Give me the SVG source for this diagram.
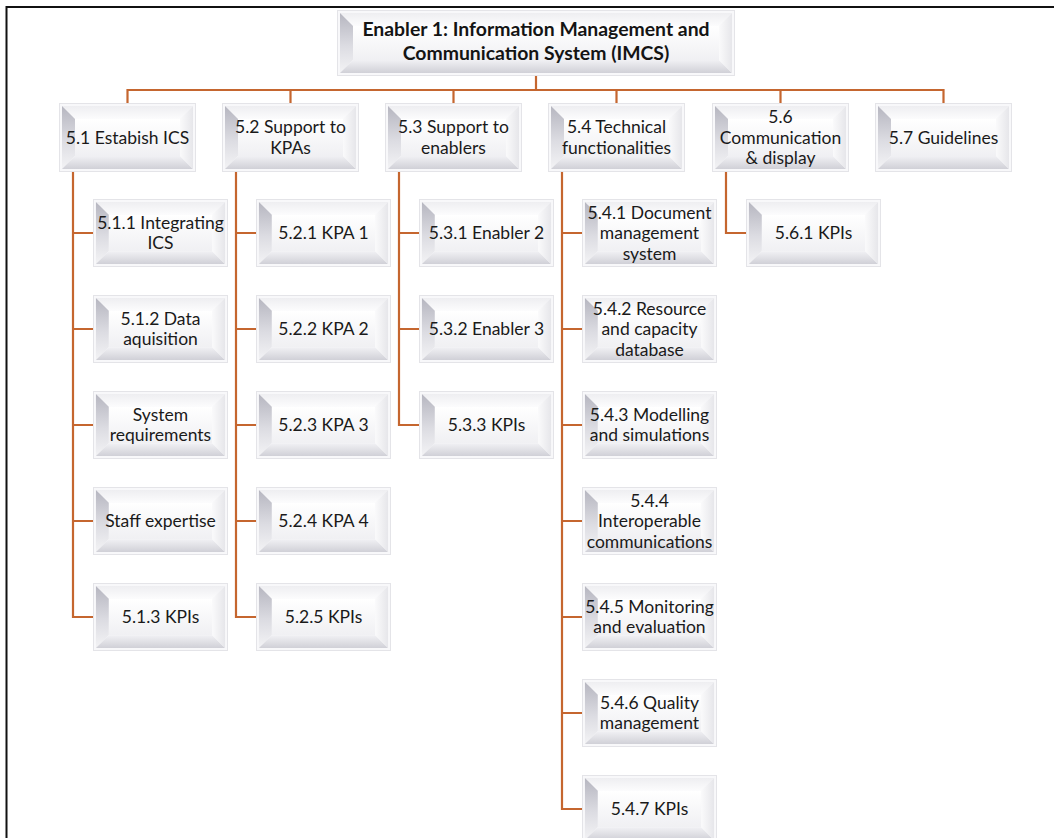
<svg xmlns="http://www.w3.org/2000/svg" xmlns:xlink="http://www.w3.org/1999/xlink" width="1054" height="838" viewBox="0 0 1054 838">
  <style>
    .lbl { font-family: Lato, "Open Sans", "Liberation Sans", sans-serif; font-size: 17.5px; fill: #1a1a1a; text-anchor: middle; }
    .ttl { font-family: Lato, "Open Sans", "Liberation Sans", sans-serif; font-size: 19.4px; font-weight: bold; fill: #141414; text-anchor: middle; }
    .wire { fill: none; stroke: #c5662f; stroke-width: 2.2; }
    .frame { fill: none; stroke: #111; stroke-width: 2; }
  </style>
  <defs>
    <linearGradient id="faceG" x1="0" y1="0" x2="0" y2="1">
      <stop offset="0" stop-color="#ffffff"/>
      <stop offset="1" stop-color="#f0f0f3"/>
    </linearGradient>
    <linearGradient id="topG" x1="0" y1="0" x2="0" y2="1">
      <stop offset="0" stop-color="#eeeef1"/>
      <stop offset="1" stop-color="#fcfcfd"/>
    </linearGradient>
    <linearGradient id="leftG" x1="0" y1="0" x2="0" y2="1">
      <stop offset="0" stop-color="#b6b6c0"/>
      <stop offset="0.55" stop-color="#dcdce2"/>
      <stop offset="1" stop-color="#f3f3f5"/>
    </linearGradient>
    <linearGradient id="botG" x1="0" y1="0" x2="0" y2="1">
      <stop offset="0" stop-color="#f1f1f4"/>
      <stop offset="1" stop-color="#d0d0d7"/>
    </linearGradient>
    <linearGradient id="rightG" x1="0" y1="0" x2="1" y2="0">
      <stop offset="0" stop-color="#fafafb"/>
      <stop offset="1" stop-color="#e6e6ea"/>
    </linearGradient>

    <!-- bevelled box, stretched to each node's size -->
    <symbol id="bevel" viewBox="0 0 137 69" preserveAspectRatio="none">
      <rect x="0.5" y="0.5" width="136" height="68" fill="#f8f8fa" stroke="#e4e4e8"/>
      <rect x="16" y="16" width="105" height="37" fill="url(#faceG)"/>
      <polygon points="3,3 134,3 121,16 16,16" fill="url(#topG)"/>
      <polygon points="3,3 16,16 16,53 3,66" fill="url(#leftG)"/>
      <polygon points="3,66 16,53 121,53 134,66" fill="url(#botG)"/>
      <polygon points="134,3 134,66 121,53 121,16" fill="url(#rightG)"/>
    </symbol>
    <symbol id="bevelWide" viewBox="0 0 398 66" preserveAspectRatio="none">
      <rect x="0.5" y="0.5" width="397" height="65" fill="#f8f8fa" stroke="#e4e4e8"/>
      <rect x="16" y="16" width="366" height="34" fill="url(#faceG)"/>
      <polygon points="3,3 395,3 382,16 16,16" fill="url(#topG)"/>
      <polygon points="3,3 16,16 16,50 3,63" fill="url(#leftG)"/>
      <polygon points="3,63 16,50 382,50 395,63" fill="url(#botG)"/>
      <polygon points="395,3 395,63 382,50 382,16" fill="url(#rightG)"/>
    </symbol>
  </defs>

  <rect width="1054" height="838" fill="#ffffff"/>
  <path class="frame" d="M6.5,838 V7 H1054"/>

  <!-- connectors -->
  <g id="connectors">
    <path class="wire" d="M536,76 V90"/>
    <path class="wire" d="M127.5,103 V90 H943.5 V103"/>
    <path class="wire" d="M290.5,90 V103 M453.5,90 V103 M616.5,90 V103 M780.5,90 V103"/>
    <!-- 5.1 branch -->
    <path class="wire" d="M73,172 V617 H93 M73,233 H93 M73,329 H93 M73,425 H93 M73,521 H93"/>
    <!-- 5.2 branch -->
    <path class="wire" d="M236,172 V617 H256 M236,233 H256 M236,329 H256 M236,425 H256 M236,521 H256"/>
    <!-- 5.3 branch -->
    <path class="wire" d="M399,172 V425 H419 M399,233 H419 M399,329 H419"/>
    <!-- 5.4 branch -->
    <path class="wire" d="M562,172 V809 H582 M562,233 H582 M562,329 H582 M562,425 H582 M562,521 H582 M562,617 H582 M562,713 H582"/>
    <!-- 5.6 branch -->
    <path class="wire" d="M726,172 V233 H746"/>
  </g>

  <!-- root -->
  <g id="n-root">
    <use xlink:href="#bevelWide" x="337" y="10" width="398" height="66"/>
    <text class="ttl"><tspan x="536" y="35.5">Enabler 1: Information Management and</tspan><tspan x="536" y="59.5">Communication System (IMCS)</tspan></text>
  </g>

  <!-- level 1 -->
  <g id="n-5-1">
    <use xlink:href="#bevel" x="59" y="103" width="137" height="69"/>
    <text class="lbl" x="127.5" y="143.5">5.1 Estabish ICS</text>
  </g>
  <g id="n-5-2">
    <use xlink:href="#bevel" x="222" y="103" width="137" height="69"/>
    <text class="lbl"><tspan x="290.5" y="133.25">5.2 Support to</tspan><tspan x="290.5" y="153.75">KPAs</tspan></text>
  </g>
  <g id="n-5-3">
    <use xlink:href="#bevel" x="385" y="103" width="137" height="69"/>
    <text class="lbl"><tspan x="453.5" y="133.25">5.3 Support to</tspan><tspan x="453.5" y="153.75">enablers</tspan></text>
  </g>
  <g id="n-5-4">
    <use xlink:href="#bevel" x="548" y="103" width="137" height="69"/>
    <text class="lbl"><tspan x="616.5" y="133.25">5.4 Technical</tspan><tspan x="616.5" y="153.75">functionalities</tspan></text>
  </g>
  <g id="n-5-6">
    <use xlink:href="#bevel" x="712" y="103" width="137" height="69"/>
    <text class="lbl"><tspan x="780.5" y="123">5.6</tspan><tspan x="780.5" y="143.5">Communication</tspan><tspan x="780.5" y="164">&amp; display</tspan></text>
  </g>
  <g id="n-5-7">
    <use xlink:href="#bevel" x="875" y="103" width="137" height="69"/>
    <text class="lbl" x="943.5" y="143.5">5.7 Guidelines</text>
  </g>

  <!-- 5.1 children -->
  <g id="n-5-1-1">
    <use xlink:href="#bevel" x="93" y="199" width="135" height="68"/>
    <text class="lbl"><tspan x="160.5" y="228.75">5.1.1 Integrating</tspan><tspan x="160.5" y="249.25">ICS</tspan></text>
  </g>
  <g id="n-5-1-2">
    <use xlink:href="#bevel" x="93" y="295" width="135" height="68"/>
    <text class="lbl"><tspan x="160.5" y="324.75">5.1.2 Data</tspan><tspan x="160.5" y="345.25">aquisition</tspan></text>
  </g>
  <g id="n-sysreq">
    <use xlink:href="#bevel" x="93" y="391" width="135" height="68"/>
    <text class="lbl"><tspan x="160.5" y="420.75">System</tspan><tspan x="160.5" y="441.25">requirements</tspan></text>
  </g>
  <g id="n-staff">
    <use xlink:href="#bevel" x="93" y="487" width="135" height="68"/>
    <text class="lbl" x="160.5" y="527">Staff expertise</text>
  </g>
  <g id="n-5-1-3">
    <use xlink:href="#bevel" x="93" y="583" width="135" height="68"/>
    <text class="lbl" x="160.5" y="623">5.1.3 KPIs</text>
  </g>

  <!-- 5.2 children -->
  <g id="n-5-2-1">
    <use xlink:href="#bevel" x="256" y="199" width="135" height="68"/>
    <text class="lbl" x="323.5" y="239">5.2.1 KPA 1</text>
  </g>
  <g id="n-5-2-2">
    <use xlink:href="#bevel" x="256" y="295" width="135" height="68"/>
    <text class="lbl" x="323.5" y="335">5.2.2 KPA 2</text>
  </g>
  <g id="n-5-2-3">
    <use xlink:href="#bevel" x="256" y="391" width="135" height="68"/>
    <text class="lbl" x="323.5" y="431">5.2.3 KPA 3</text>
  </g>
  <g id="n-5-2-4">
    <use xlink:href="#bevel" x="256" y="487" width="135" height="68"/>
    <text class="lbl" x="323.5" y="527">5.2.4 KPA 4</text>
  </g>
  <g id="n-5-2-5">
    <use xlink:href="#bevel" x="256" y="583" width="135" height="68"/>
    <text class="lbl" x="323.5" y="623">5.2.5 KPIs</text>
  </g>

  <!-- 5.3 children -->
  <g id="n-5-3-1">
    <use xlink:href="#bevel" x="419" y="199" width="135" height="68"/>
    <text class="lbl" x="486.5" y="239">5.3.1 Enabler 2</text>
  </g>
  <g id="n-5-3-2">
    <use xlink:href="#bevel" x="419" y="295" width="135" height="68"/>
    <text class="lbl" x="486.5" y="335">5.3.2 Enabler 3</text>
  </g>
  <g id="n-5-3-3">
    <use xlink:href="#bevel" x="419" y="391" width="135" height="68"/>
    <text class="lbl" x="486.5" y="431">5.3.3 KPIs</text>
  </g>

  <!-- 5.4 children -->
  <g id="n-5-4-1">
    <use xlink:href="#bevel" x="582" y="199" width="135" height="68"/>
    <text class="lbl"><tspan x="649.5" y="218.5">5.4.1 Document</tspan><tspan x="649.5" y="239">management</tspan><tspan x="649.5" y="259.5">system</tspan></text>
  </g>
  <g id="n-5-4-2">
    <use xlink:href="#bevel" x="582" y="295" width="135" height="68"/>
    <text class="lbl"><tspan x="649.5" y="314.5">5.4.2 Resource</tspan><tspan x="649.5" y="335">and capacity</tspan><tspan x="649.5" y="355.5">database</tspan></text>
  </g>
  <g id="n-5-4-3">
    <use xlink:href="#bevel" x="582" y="391" width="135" height="68"/>
    <text class="lbl"><tspan x="649.5" y="420.75">5.4.3 Modelling</tspan><tspan x="649.5" y="441.25">and simulations</tspan></text>
  </g>
  <g id="n-5-4-4">
    <use xlink:href="#bevel" x="582" y="487" width="135" height="68"/>
    <text class="lbl"><tspan x="649.5" y="506.5">5.4.4</tspan><tspan x="649.5" y="527">Interoperable</tspan><tspan x="649.5" y="547.5">communications</tspan></text>
  </g>
  <g id="n-5-4-5">
    <use xlink:href="#bevel" x="582" y="583" width="135" height="68"/>
    <text class="lbl"><tspan x="649.5" y="612.75">5.4.5 Monitoring</tspan><tspan x="649.5" y="633.25">and evaluation</tspan></text>
  </g>
  <g id="n-5-4-6">
    <use xlink:href="#bevel" x="582" y="679" width="135" height="68"/>
    <text class="lbl"><tspan x="649.5" y="708.75">5.4.6 Quality</tspan><tspan x="649.5" y="729.25">management</tspan></text>
  </g>
  <g id="n-5-4-7">
    <use xlink:href="#bevel" x="582" y="775" width="135" height="68"/>
    <text class="lbl" x="649.5" y="815">5.4.7 KPIs</text>
  </g>

  <!-- 5.6 child -->
  <g id="n-5-6-1">
    <use xlink:href="#bevel" x="746" y="199" width="135" height="68"/>
    <text class="lbl" x="813.5" y="239">5.6.1 KPIs</text>
  </g>
</svg>
